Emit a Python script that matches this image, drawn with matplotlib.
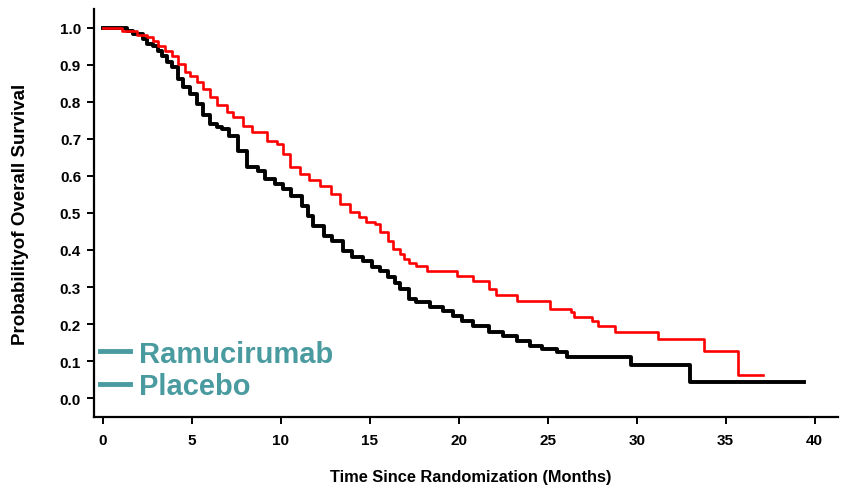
import matplotlib
matplotlib.use('Agg')
import matplotlib.pyplot as plt
from matplotlib.lines import Line2D

plt.rcParams['font.family'] = ['Liberation Sans', 'DejaVu Sans']
plt.rcParams['font.weight'] = 'bold'

# Kaplan-Meier estimates (months, survival probability)
ramu_t = [0, 1.1, 1.9, 2.5, 2.8, 3.1, 3.5, 3.9, 4.2, 4.6, 4.9, 5.3, 5.6, 6.0, 6.4, 7.0, 7.3,
          7.9, 8.4, 9.2, 9.8, 10.1, 10.5, 11.1, 11.6, 12.2, 12.8, 13.3, 13.9, 14.4, 14.8, 15.3,
          15.6, 16.0, 16.3, 16.7, 16.9, 17.2, 17.6, 18.2, 19.9, 20.8, 21.7, 22.1, 23.3, 25.1,
          26.3, 26.5, 27.5, 27.8, 28.8, 31.2, 33.8, 35.7, 37.1]
ramu_s = [1.0, 0.99, 0.981, 0.975, 0.965, 0.951, 0.938, 0.924, 0.903, 0.88, 0.87, 0.854, 0.835,
          0.812, 0.79, 0.773, 0.76, 0.735, 0.719, 0.695, 0.686, 0.659, 0.624, 0.605, 0.588,
          0.572, 0.551, 0.524, 0.503, 0.489, 0.476, 0.47, 0.449, 0.424, 0.403, 0.389, 0.376,
          0.366, 0.357, 0.343, 0.33, 0.316, 0.295, 0.278, 0.262, 0.24, 0.232, 0.219, 0.208,
          0.195, 0.179, 0.159, 0.127, 0.062, 0.062]

plac_t = [0, 1.35, 1.7, 2.25, 2.5, 2.8, 3.1, 3.3, 3.6, 3.9, 4.2, 4.5, 4.9, 5.3, 5.6, 6.0, 6.4,
          6.7, 7.1, 7.6, 8.1, 8.7, 9.1, 9.7, 10.1, 10.6, 11.2, 11.5, 11.8, 12.4, 12.9, 13.5,
          14.0, 14.6, 15.1, 15.6, 16.0, 16.4, 16.7, 17.2, 17.6, 18.4, 19.1, 19.7, 20.2, 20.8,
          21.7, 22.5, 23.3, 24.0, 24.7, 25.5, 26.1, 29.7, 33.0, 39.4]
plac_s = [1.0, 0.992, 0.984, 0.97, 0.957, 0.951, 0.938, 0.924, 0.908, 0.895, 0.862, 0.84,
          0.822, 0.795, 0.765, 0.74, 0.732, 0.727, 0.708, 0.668, 0.624, 0.614, 0.592, 0.578,
          0.565, 0.546, 0.519, 0.492, 0.465, 0.438, 0.424, 0.397, 0.381, 0.37, 0.354, 0.343,
          0.327, 0.31, 0.295, 0.268, 0.259, 0.246, 0.235, 0.222, 0.208, 0.195, 0.178, 0.168,
          0.154, 0.141, 0.132, 0.124, 0.11, 0.089, 0.043, 0.043]

xticks = [0, 5, 10, 15, 20, 25, 30, 35, 40]
yticks = [0.0, 0.1, 0.2, 0.3, 0.4, 0.5, 0.6, 0.7, 0.8, 0.9, 1.0]
legend_labels = ['Ramucirumab', 'Placebo']
teal = '#4a9ba0'

fig = plt.figure(figsize=(8.42, 4.89), dpi=100)
ax = fig.add_axes([0.1116, 0.145, 0.8834, 0.835])

ax.plot(plac_t, plac_s, color='black', lw=2.8, drawstyle='steps-post', zorder=2)
ax.plot(ramu_t, ramu_s, color='#ff0000', lw=1.9, drawstyle='steps-post', zorder=3)

ax.set_xlim(-0.5, 41.3)
ax.set_ylim(-0.051, 1.051)
ax.set_xticks(xticks)
ax.set_yticks(yticks)
ax.set_yticklabels(['%.1f' % v for v in yticks])
ax.tick_params(direction='out', length=5, width=1.4, labelsize=11)
ax.tick_params(axis='x', pad=6.5)
ax.tick_params(axis='y', pad=4.3)
for lab in ax.get_xticklabels() + ax.get_yticklabels():
    lab.set_fontweight('bold')
for s in ['top', 'right']:
    ax.spines[s].set_visible(False)
for s in ['left', 'bottom']:
    ax.spines[s].set_linewidth(1.6)

ax.set_xlabel('Time Since Randomization (Months)', fontsize=11.8, fontweight='bold')
ax.xaxis.set_label_coords(0.507, -0.128)
ax.set_ylabel('Probabilityof Overall Survival', fontsize=13.5, fontweight='bold', labelpad=22)

handles = [Line2D([], [], color=teal, lw=3.5) for _ in legend_labels]
leg = ax.legend(handles, legend_labels, loc='lower left', bbox_to_anchor=(0.008, 0.042),
                frameon=False, borderaxespad=0, borderpad=0,
                handlelength=1.03, handletextpad=0.3, labelspacing=0.15,
                prop={'size': 21, 'weight': 'bold'}, labelcolor=teal)

fig.savefig('out.png', dpi=100)
